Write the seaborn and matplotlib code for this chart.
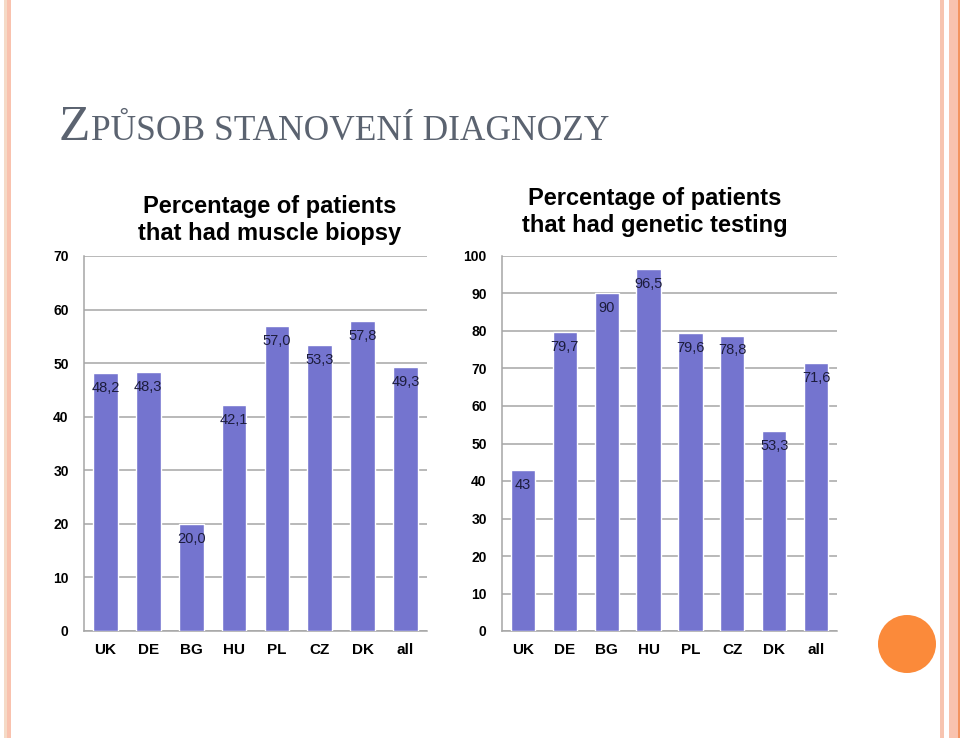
import numpy as np
import pandas as pd
import seaborn as sns
import matplotlib.pyplot as plt
from matplotlib import patches

countries = ["UK", "DE", "BG", "HU", "PL", "CZ", "DK", "all"]
biopsy = [48.2, 48.3, 20.0, 42.1, 57.0, 53.3, 57.8, 49.3]
genetic = [43, 79.7, 90, 96.5, 79.6, 78.8, 53.3, 71.6]
biopsy_labels = [f"{v:.1f}".replace(".", ",") for v in biopsy]
genetic_labels = [f"{v:g}".replace(".", ",") for v in genetic]

BAR = "#7474cf"
GRID = "#a6a6a6"
W, H = 960, 738

sns.set_theme(style="white")
plt.rcParams["font.family"] = ["Liberation Sans", "DejaVu Sans"]

fig = plt.figure(figsize=(W / 100, H / 100), dpi=100)
fig.patch.set_facecolor("white")

# decoration layer in pixel coordinates
bg = fig.add_axes([0, 0, 1, 1], zorder=0)
bg.set_xlim(0, W)
bg.set_ylim(H, 0)
bg.axis("off")
for x0, x1, c in [(4, 7, "#f5dac6"), (7, 11, "#f9c2ae"),
                  (940, 944, "#f7c4b0"), (949, 958, "#f9c2ae"),
                  (958, 960, "#f3935f")]:
    bg.add_patch(patches.Rectangle((x0, 0), x1 - x0, H, color=c, lw=0))
bg.add_patch(patches.Circle((907, 644), 29, color="#fb8a3a", lw=0))

head_color = "#5b6370"
tz = bg.text(59, 140, "Z", fontsize=37, family="Liberation Serif",
             color=head_color, va="baseline", ha="left")
fig.canvas.draw()
bb = tz.get_window_extent()
bg.text(bb.x1 + 1, 140, "PŮSOB STANOVENÍ DIAGNOZY", fontsize=25.5,
        family="Liberation Serif", color=head_color, va="baseline", ha="left")


def px_axes(x0, x1, y0, y1):
    return fig.add_axes([x0 / W, (H - y1) / H, (x1 - x0) / W, (y1 - y0) / H],
                        zorder=1)


def draw(ax, values, labels, ymax):
    df = pd.DataFrame({"country": countries, "value": values})
    sns.barplot(data=df, x="country", y="value", color=BAR, width=0.58,
                saturation=1, ax=ax, zorder=3)
    ax.set_xlim(-0.5, len(countries) - 0.5)
    ax.set_ylim(0, ymax)
    ax.set_yticks(np.arange(0, ymax + 1, 10))
    ax.yaxis.grid(True, color=GRID, lw=1.1, zorder=0)
    ax.set_axisbelow(True)
    for s in ["top", "right"]:
        ax.spines[s].set_visible(False)
    for s in ["left", "bottom"]:
        ax.spines[s].set_color(GRID)
        ax.spines[s].set_linewidth(1.1)
    ax.set_xlabel("")
    ax.set_ylabel("")
    ax.tick_params(axis="x", length=0, pad=9, labelsize=11)
    ax.tick_params(axis="y", length=0, pad=11, labelsize=10)
    for t in ax.get_xticklabels() + ax.get_yticklabels():
        t.set_fontweight("bold")
        t.set_color("black")
    for i, (v, lab) in enumerate(zip(values, labels)):
        ax.annotate(lab, (i, v), xytext=(0, -15), textcoords="offset pixels",
                    ha="center", va="center", fontsize=10.5, color="#1c1c3c",
                    zorder=4)


ax1 = px_axes(84, 427, 256, 631)
draw(ax1, biopsy, biopsy_labels, 70)
ax2 = px_axes(502, 837, 256, 631)
draw(ax2, genetic, genetic_labels, 100)

bg.text(270, 220, "Percentage of patients\nthat had muscle biopsy",
        ha="center", va="center", fontsize=17, fontweight="bold",
        linespacing=1.2, color="black")
bg.text(655, 212, "Percentage of patients\nthat had genetic testing",
        ha="center", va="center", fontsize=17, fontweight="bold",
        linespacing=1.2, color="black")

fig.savefig("out.png", dpi=100, facecolor="white")
